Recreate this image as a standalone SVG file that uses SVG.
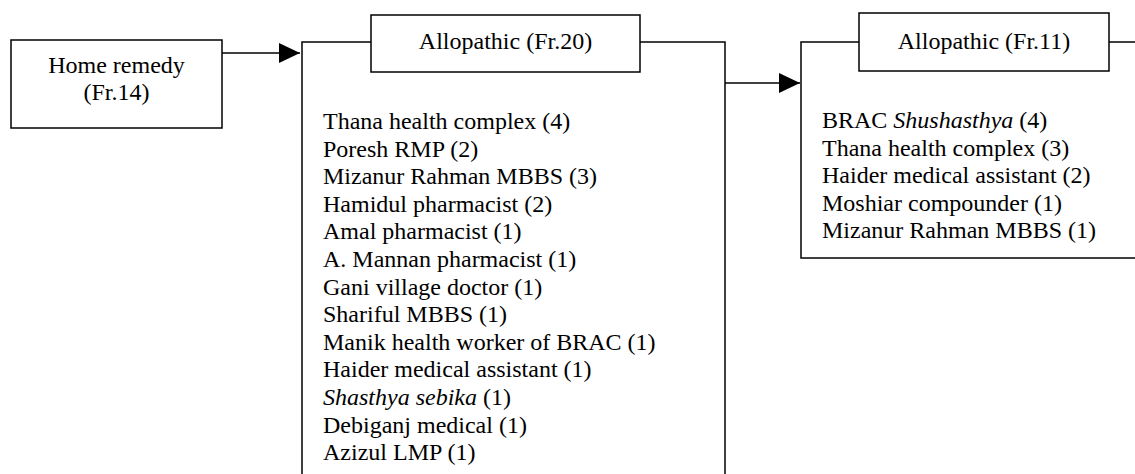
<svg xmlns="http://www.w3.org/2000/svg" width="1135" height="474" viewBox="0 0 1135 474">
<style>
.box{fill:#fff;stroke:#000;stroke-width:1.5}
.t{font-family:"Liberation Serif","Times New Roman",serif;font-size:24px;fill:#000}
.c{text-anchor:middle}
.conn{fill:none;stroke:#000;stroke-width:1.5}
</style>
<defs>
<marker id="arrow" markerUnits="userSpaceOnUse" markerWidth="22" markerHeight="22" refX="21" refY="10" orient="auto">
<path d="M0,0 L21,10 L0,20 Z" fill="#000"/>
</marker>
</defs>
<rect width="1135" height="474" fill="#fff"/>
<g id="home-remedy">
<rect class="box" x="11" y="40" width="211" height="88"/>
<text class="t c" x="116.5" y="73">Home remedy</text>
<text class="t c" x="116.5" y="100">(Fr.14)</text>
</g>
<g id="allopathic-20">
<rect class="box" x="302" y="42" width="423" height="445"/>
<rect class="box" x="371" y="15" width="269" height="57"/>
<text class="t c" x="505.5" y="49">Allopathic (Fr.20)</text>
<text class="t" x="323">
<tspan x="323" y="129">Thana health complex (4)</tspan>
<tspan x="323" y="156.6">Poresh RMP (2)</tspan>
<tspan x="323" y="184.2">Mizanur Rahman MBBS (3)</tspan>
<tspan x="323" y="211.8">Hamidul pharmacist (2)</tspan>
<tspan x="323" y="239.4">Amal pharmacist (1)</tspan>
<tspan x="323" y="267">A. Mannan pharmacist (1)</tspan>
<tspan x="323" y="294.6">Gani village doctor (1)</tspan>
<tspan x="323" y="322.2">Shariful MBBS (1)</tspan>
<tspan x="323" y="349.8">Manik health worker of BRAC (1)</tspan>
<tspan x="323" y="377.4">Haider medical assistant (1)</tspan>
<tspan x="323" y="405"><tspan font-style="italic">Shasthya sebika</tspan> (1)</tspan>
<tspan x="323" y="432.6">Debiganj medical (1)</tspan>
<tspan x="323" y="460.2">Azizul LMP (1)</tspan>
</text>
</g>
<g id="allopathic-11">
<rect class="box" x="801" y="42" width="345" height="216"/>
<rect class="box" x="859" y="13" width="250" height="58"/>
<text class="t c" x="984" y="49">Allopathic (Fr.11)</text>
<text class="t" x="822">
<tspan x="822" y="128">BRAC <tspan font-style="italic">Shushasthya</tspan> (4)</tspan>
<tspan x="822" y="155.6">Thana health complex (3)</tspan>
<tspan x="822" y="183.2">Haider medical assistant (2)</tspan>
<tspan x="822" y="210.8">Moshiar compounder (1)</tspan>
<tspan x="822" y="238.4">Mizanur Rahman MBBS (1)</tspan>
</text>
</g>
<g id="connectors">
<line class="conn" x1="222" y1="53" x2="300" y2="53" marker-end="url(#arrow)"/>
<line class="conn" x1="725" y1="83" x2="800" y2="83" marker-end="url(#arrow)"/>
</g>
</svg>
